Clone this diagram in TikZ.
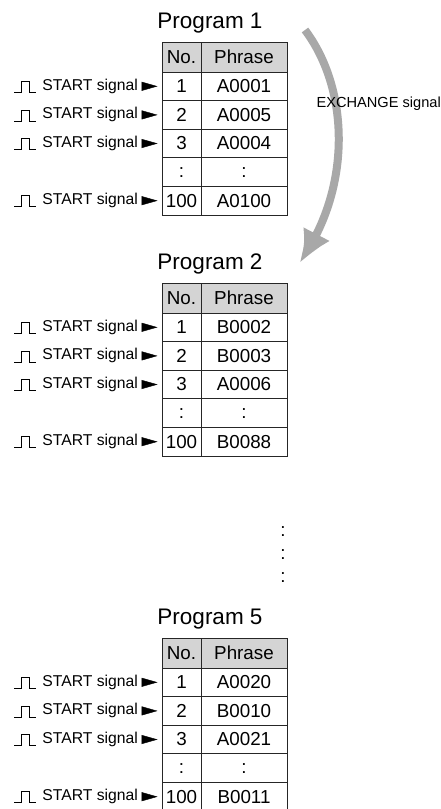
\documentclass[tikz,border=0pt]{standalone}
\usepackage{fontspec}
\setmainfont{Liberation Sans}
\usetikzlibrary{arrows.meta, bending}
\definecolor{hdrgray}{RGB}{212,212,212}
\definecolor{arcgray}{RGB}{168,168,168}
\begin{document}
\begin{tikzpicture}[x=1pt, y=-1pt,
    cell/.style={draw=black!85, line width=0.9pt, inner sep=0pt, minimum height=28.6pt, font=\fontsize{18.8}{20}\selectfont},
    hdr/.style={cell, fill=hdrgray, minimum height=30pt},
    nocol/.style={minimum width=39pt},
    phcol/.style={minimum width=86pt},
    title/.style={font=\fontsize{22.5}{24}\selectfont, inner sep=0pt},
    sig/.style={font=\fontsize{15.7}{17}\selectfont, inner sep=0pt, anchor=east},
    sigtip/.style={-{Triangle[length=16pt,width=9pt]}, shorten <=4pt, shorten >=4pt},
    pulse/.style={line width=0.8pt},
    xarc/.style={draw=arcgray, line width=8pt, -{Latex[length=34pt,width=30pt,bend]}}]
    \useasboundingbox (0,0) rectangle (441,809);
    % one table per program
    \foreach \t/\top/\a/\b/\c/\d in {1/42/A0001/A0005/A0004/A0100, 2/283/B0002/B0003/A0006/B0088, 5/638/A0020/B0010/A0021/B0011} {
        \pgfmathsetmacro{\hy}{\top+15}
        \node[title] (P\t) at (210,\top-19) {Program \t};
        \node[hdr, nocol] (H\t no) at (181.5,\hy) {No.};
        \node[hdr, phcol] (H\t ph) at (244,\hy) {Phrase};
        \foreach \r/\no/\ph in {1/1/\a, 2/2/\b, 3/3/\c, 4/:/:, 5/100/\d} {
            \pgfmathsetmacro{\ry}{\top+30+(\r-0.5)*28.6}
            \node[cell, nocol] (N\t-\r) at (181.5,\ry) {\no};
            \node[cell, phcol] (F\t-\r) at (244,\ry) {\ph};
            \ifnum\r=4 \else
                \node[sig] (S\t-\r) at (138,\ry) {START signal};
                \draw[sigtip] (S\t-\r.east) -- (N\t-\r.west);
                \draw[pulse] (S\t-\r.west) ++(-28,6) -- ++(7,0) -- ++(0,-11) -- ++(8,0) -- ++(0,11) -- ++(7,0);
            \fi
        }
    }
    % exchange arrow
    \coordinate (xa) at (305,30);
    \coordinate (xb) at (299,263);
    \draw[xarc] (xa) .. controls (350,90) and (352,190) .. (xb);
    \node[font=\fontsize{14.6}{16}\selectfont, inner sep=0pt, anchor=east] (X) at (441,104) {EXCHANGE signal};
    % dots between program 2 and 5
    \node[font=\fontsize{18.8}{20}\selectfont] (D1) at (283,532) {:};
    \node[font=\fontsize{18.8}{20}\selectfont] (D2) at (283,555) {:};
    \node[font=\fontsize{18.8}{20}\selectfont] (D3) at (283,578) {:};
\end{tikzpicture}
\end{document}
